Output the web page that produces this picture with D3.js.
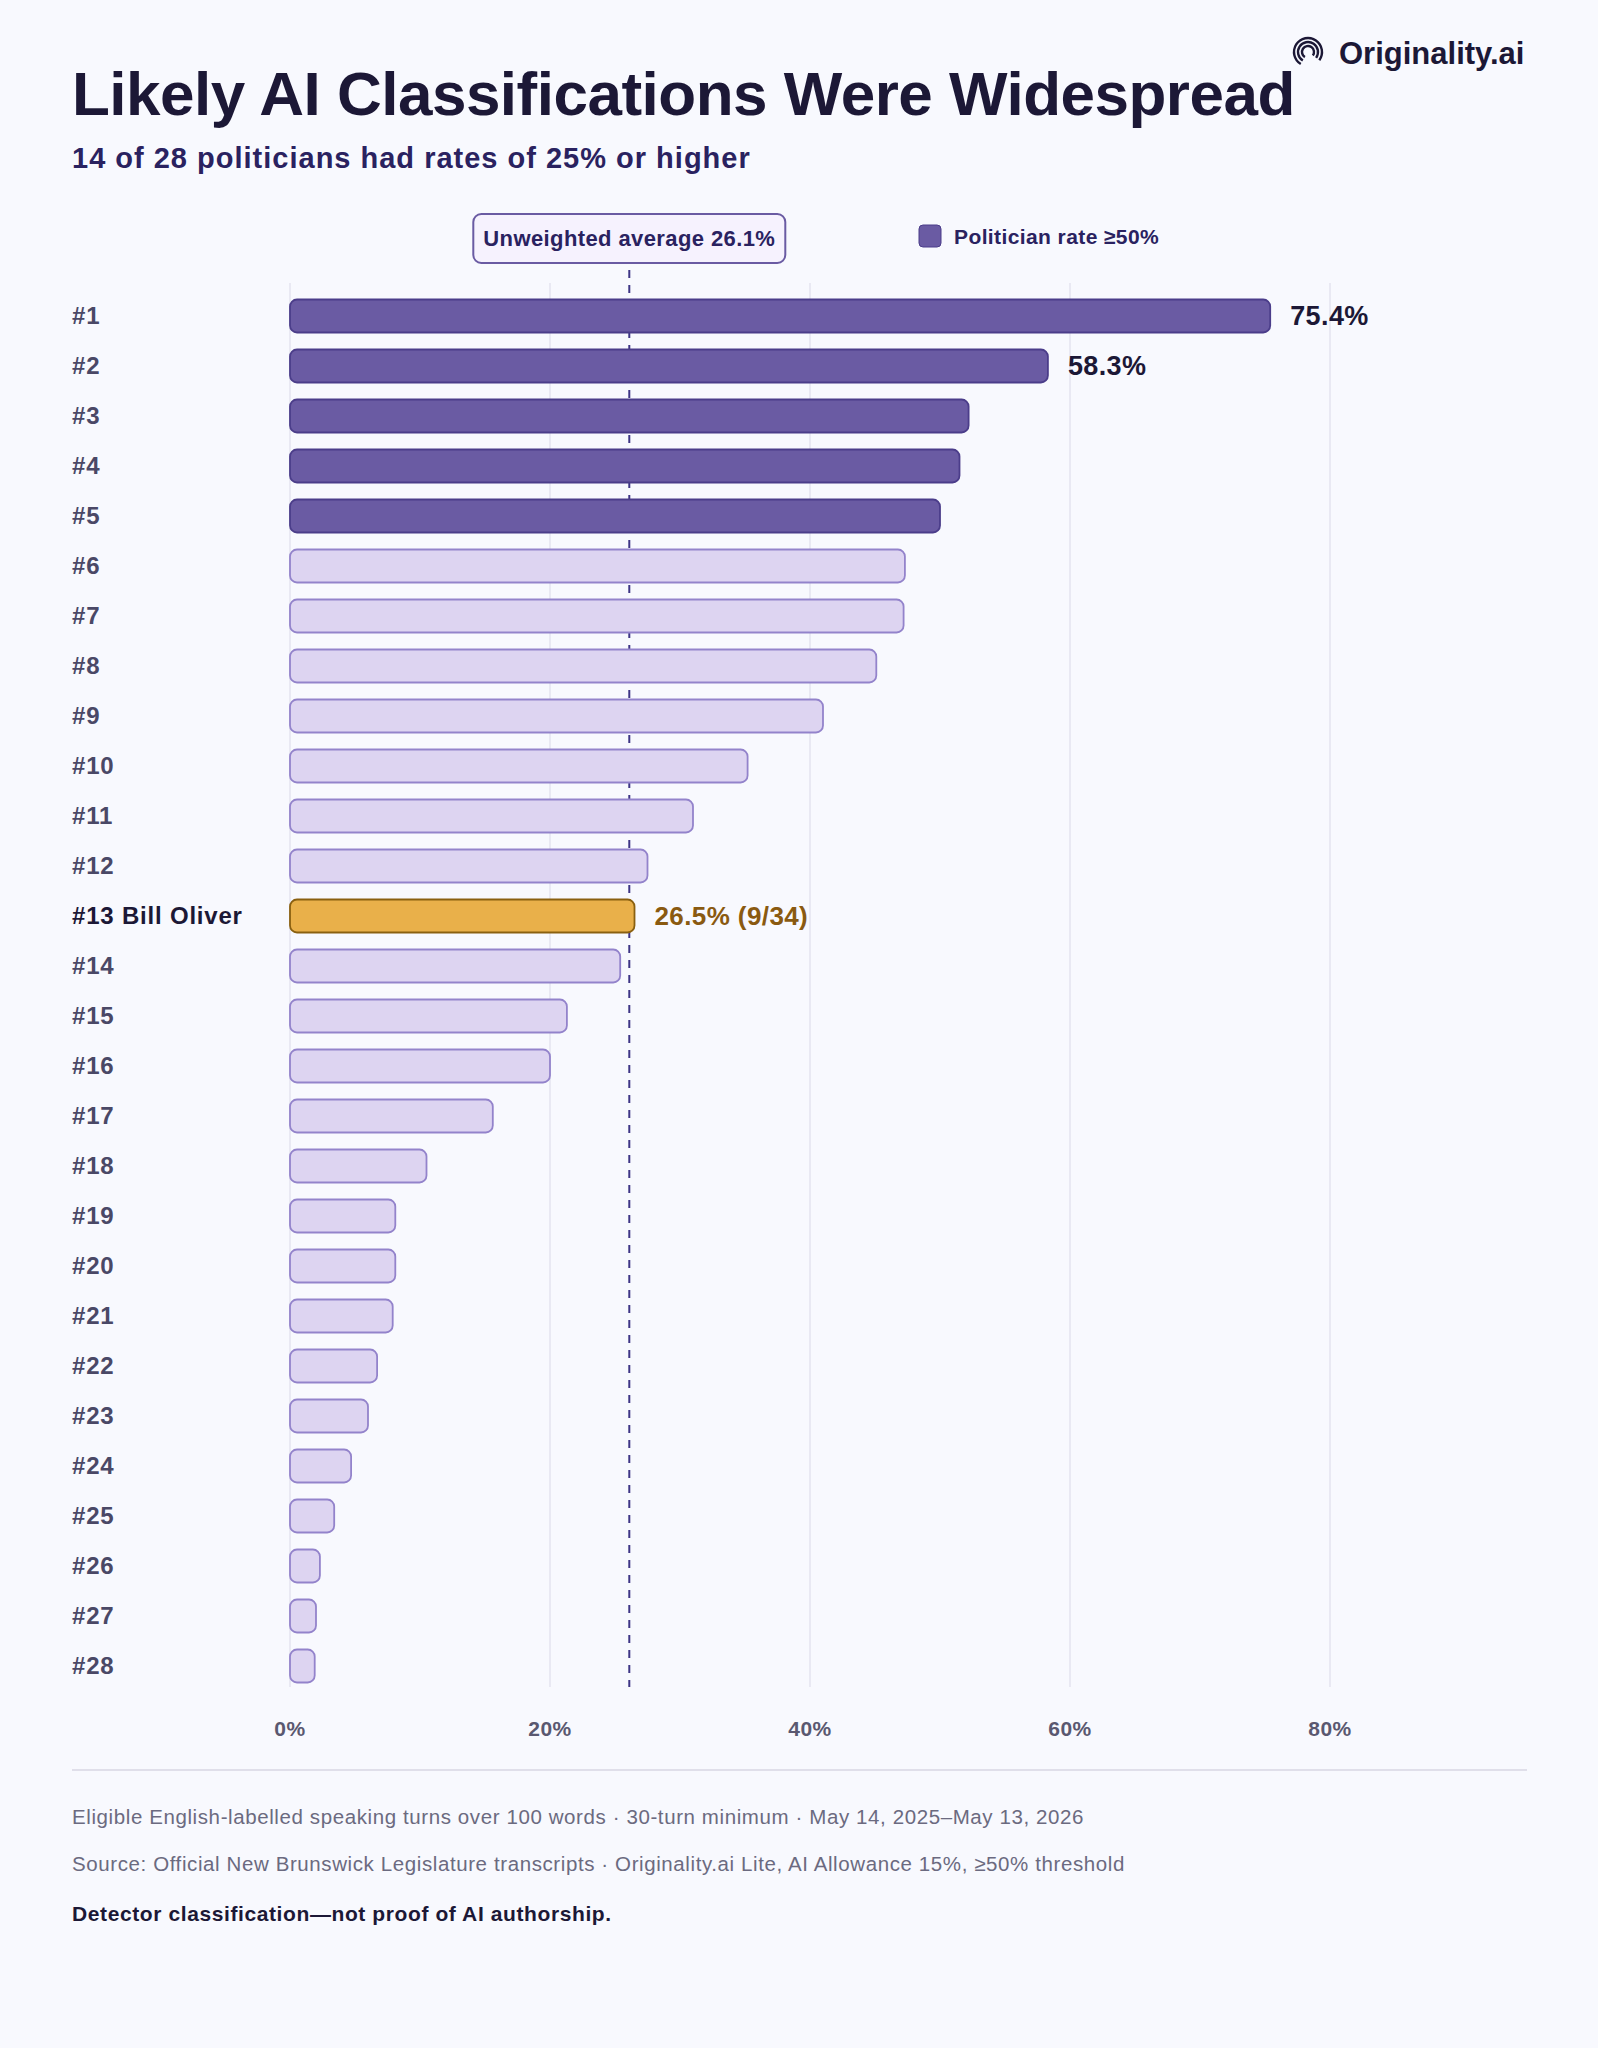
<!DOCTYPE html>
<html><head><meta charset="utf-8">
<script src="https://cdn.jsdelivr.net/npm/d3@7"></script>
<style>body{margin:0;background:#f8f9fe}svg{display:block}</style>
</head><body><svg id="c" width="1598" height="2048"></svg>
<script>
const labels = ["#1","#2","#3","#4","#5","#6","#7","#8","#9","#10","#11","#12","#13 Bill Oliver","#14","#15","#16","#17","#18","#19","#20","#21","#22","#23","#24","#25","#26","#27","#28"];
const values = [75.4,58.3,52.2,51.5,50.0,47.3,47.2,45.1,41.0,35.2,31.0,27.5,26.5,25.4,21.3,20.0,15.6,10.5,8.1,8.1,7.9,6.7,6.0,4.7,3.4,2.3,2.0,1.9];
const valueLabels = {0:"75.4%",1:"58.3%",12:"26.5% (9/34)"};
const ticks = [0,20,40,60,80];
const average = 26.1;
const highlight = 12;

const svg = d3.select("#c");
const F = "Liberation Sans, Arial, sans-serif";
svg.append("rect").attr("width",1598).attr("height",2048).attr("fill","#f8f9fe");
const x = d3.scaleLinear().domain([0,80]).range([290,1330]);
const y = d3.scaleBand().domain(d3.range(labels.length)).range([291,1691]).paddingInner(0.34).paddingOuter(0.17);

svg.append("text").attr("x",72).attr("y",115).attr("font-family",F).attr("font-weight",700).attr("font-size",62).attr("fill","#1c1836").attr("letter-spacing",-0.5).text("Likely AI Classifications Were Widespread");
svg.append("text").attr("x",72).attr("y",168).attr("font-family",F).attr("font-weight",700).attr("font-size",29).attr("letter-spacing",1).attr("fill","#2a2260").text("14 of 28 politicians had rates of 25% or higher");

// logo
const lg = svg.append("g").attr("transform","translate(1308,52)");
[14,10,6].forEach(r=>lg.append("path").attr("d",d3.arc()({innerRadius:r-1.2,outerRadius:r+1.2,startAngle:-2.6,endAngle:2.2})).attr("fill","#1c1836"));
svg.append("text").attr("x",1339).attr("y",64).attr("font-family",F).attr("font-weight",600).attr("font-size",31).attr("fill","#1c1836").text("Originality.ai");

// grid
svg.append("g").selectAll("line").data(ticks).join("line")
 .attr("x1",d=>x(d)).attr("x2",d=>x(d)).attr("y1",283).attr("y2",1687).attr("stroke","#e4e3ef").attr("stroke-width",1.5);
svg.append("g").selectAll("text").data(ticks).join("text")
 .attr("x",d=>x(d)).attr("y",1736).attr("text-anchor","middle").attr("font-family",F).attr("font-weight",700).attr("font-size",21).attr("letter-spacing",0.5).attr("fill","#5a5870").text(d=>d+"%");

// average line
svg.append("line").attr("x1",x(average)).attr("x2",x(average)).attr("y1",270).attr("y2",1687)
 .attr("stroke","#3d3585").attr("stroke-width",2).attr("stroke-dasharray","8,7");
svg.append("rect").attr("x",x(average)-156).attr("y",214).attr("width",312).attr("height",49).attr("rx",8)
 .attr("fill","#f6f2fe").attr("stroke","#6a5ba3").attr("stroke-width",2);
svg.append("text").attr("x",x(average)).attr("y",246).attr("text-anchor","middle").attr("font-family",F).attr("font-weight",700).attr("font-size",22).attr("letter-spacing",0.4).attr("fill","#2a2260").text("Unweighted average "+average+"%");

// legend
svg.append("rect").attr("x",919).attr("y",225).attr("width",22).attr("height",22).attr("rx",4).attr("fill","#6a5ba3").attr("stroke","#4b3d8a");
svg.append("text").attr("x",954).attr("y",244).attr("font-family",F).attr("font-weight",700).attr("font-size",21).attr("letter-spacing",0.4).attr("fill","#2a2260").text("Politician rate ≥50%");

// bars
const col = (d,i)=> i===highlight ? "#e9b04a" : d>=50 ? "#6a5ba3" : "#ddd4f1";
const stk = (d,i)=> i===highlight ? "#8a6010" : d>=50 ? "#4b3d8a" : "#9383cb";
svg.append("g").selectAll("rect").data(values).join("rect")
 .attr("x",x(0)).attr("y",(d,i)=>y(i)).attr("height",y.bandwidth())
 .attr("width",d=>Math.max(x(d)-x(0),24)).attr("rx",7)
 .attr("fill",col).attr("stroke",stk).attr("stroke-width",1.8);
svg.append("g").selectAll("text").data(labels).join("text")
 .attr("x",72).attr("y",(d,i)=>y(i)+y.bandwidth()/2+8).attr("font-family",F).attr("font-weight",700).attr("font-size",24).attr("letter-spacing",0.8)
 .attr("fill",(d,i)=>i===highlight?"#1c1836":"#4a4866").text(d=>d);
Object.entries(valueLabels).forEach(([i,t])=>{
  i=+i;
  svg.append("text").attr("x",x(values[i])+20).attr("y",y(i)+y.bandwidth()/2+9).attr("font-family",F).attr("font-weight",700).attr("font-size",i===highlight?26:27).attr("letter-spacing",0.4)
   .attr("fill",i===highlight?"#8a5a10":"#1c1836").text(t);
});

// footer
svg.append("line").attr("x1",72).attr("x2",1527).attr("y1",1770).attr("y2",1770).attr("stroke","#e0dfea").attr("stroke-width",2);
const foot = ["Eligible English-labelled speaking turns over 100 words · 30-turn minimum · May 14, 2025–May 13, 2026","Source: Official New Brunswick Legislature transcripts · Originality.ai Lite, AI Allowance 15%, ≥50% threshold"];
foot.forEach((t,i)=>svg.append("text").attr("x",72).attr("y",1824+i*47).attr("font-family",F).attr("font-size",20.5).attr("letter-spacing",0.6).attr("fill","#6b6a80").text(t));
svg.append("text").attr("x",72).attr("y",1921).attr("font-family",F).attr("font-weight",700).attr("font-size",21).attr("letter-spacing",0.6).attr("fill","#1c1836").text("Detector classification—not proof of AI authorship.");
</script></body></html>
